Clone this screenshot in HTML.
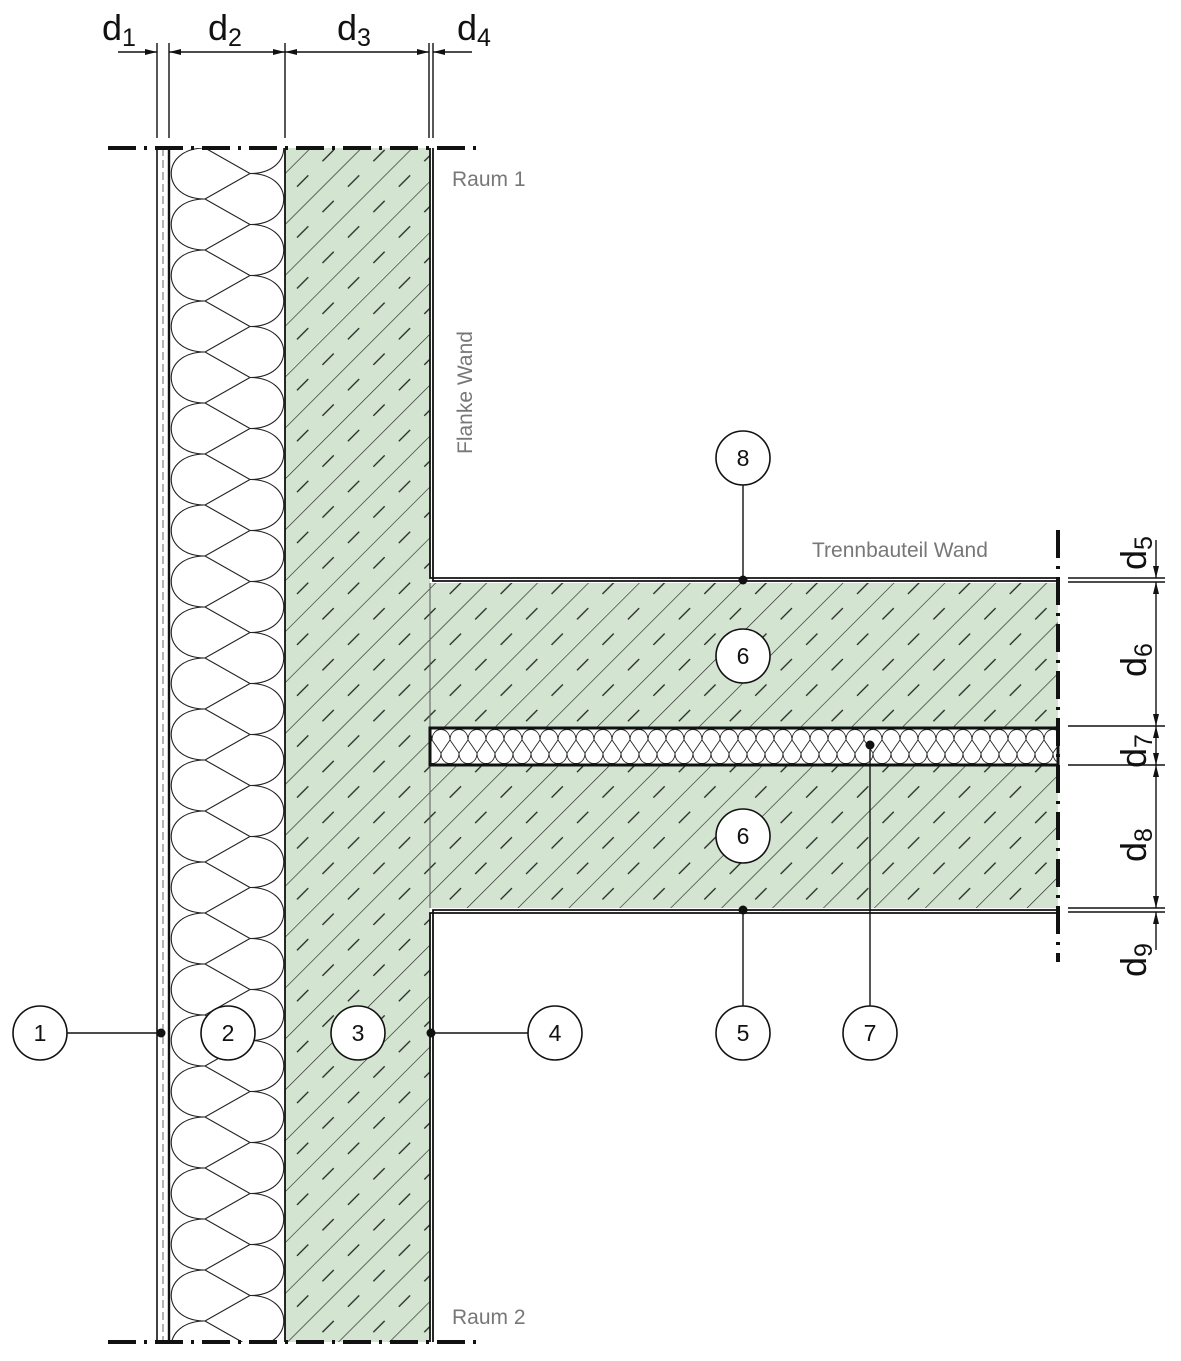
<!DOCTYPE html>
<html><head><meta charset="utf-8"><style>
html,body{margin:0;padding:0;background:#fff;}
svg{display:block;}
text{font-family:"Liberation Sans",sans-serif;}
</style></head><body>
<svg width="1181" height="1361" viewBox="0 0 1181 1361" xmlns="http://www.w3.org/2000/svg">
<defs>
<pattern id="hatch" patternUnits="userSpaceOnUse" width="36" height="36" patternTransform="rotate(-45)">
<rect width="36" height="36" fill="#d3e5d1"/>
<line x1="0" y1="0" x2="36" y2="0" stroke="#222" stroke-width="1.3"/>
<line x1="6" y1="18" x2="22" y2="18" stroke="#222" stroke-width="1.3"/>
</pattern>
<pattern id="ins" patternUnits="userSpaceOnUse" x="170" y="148" width="115" height="51">
<rect width="115" height="51" fill="#fff"/>
<g fill="none" stroke="#222" stroke-width="1.1">
<path d="M35,0 C-10,0 -10,51 35,51"/>
<path d="M80,-25.5 C125,-25.5 125,25.5 80,25.5"/>
<path d="M80,25.5 C125,25.5 125,76.5 80,76.5"/>
<path d="M35,0 L80,25.5 L35,51"/>
<path d="M35,0 L80,-25.5 M35,51 L80,76.5"/>
</g>
</pattern>
<pattern id="ins2" patternUnits="userSpaceOnUse" x="0" y="729" width="18" height="35">
<rect width="18" height="35" fill="#fff"/>
<g fill="none" stroke="#222" stroke-width="0.9">
<path d="M0,11 C0,-3 18,-3 18,11"/>
<path d="M-9,24 C-9,38 9,38 9,24"/>
<path d="M9,24 C9,38 27,38 27,24"/>
<path d="M0,11 L9,24 L18,11"/>
<path d="M0,11 L-9,24 M18,11 L27,24"/>
</g>
</pattern>
</defs>

<rect x="170" y="148" width="115" height="1194" fill="url(#ins)"/>
<rect x="285" y="148" width="145" height="1194" fill="url(#hatch)"/>
<rect x="428" y="583" width="630" height="144" fill="url(#hatch)"/>
<rect x="428" y="765" width="630" height="143" fill="url(#hatch)"/>
<rect x="430" y="729" width="628" height="35" fill="url(#ins2)"/>
<line x1="430" y1="583" x2="430" y2="908" stroke="#555" stroke-width="1"/>
<rect x="430" y="728" width="628" height="37" fill="none" stroke="#111" stroke-width="3"/>

<g stroke="#111" fill="none">
<line x1="157" y1="148" x2="157" y2="1342" stroke-width="1.6"/>
<line x1="163" y1="148" x2="163" y2="1342" stroke-width="1" stroke-dasharray="8,4" stroke="#666"/>
<line x1="169" y1="148" x2="169" y2="1342" stroke-width="2.4"/>
<line x1="285" y1="148" x2="285" y2="1342" stroke-width="1.8"/>
<path d="M430,148 V578 H1058 M433,148 V581 H1058" stroke-width="1.8"/>
<path d="M430,1342 V913 H1058 M433,1342 V910 H1058" stroke-width="1.8"/>
</g>

<g stroke="#111" stroke-width="4" stroke-dasharray="28,8,3,8">
<line x1="108" y1="148" x2="480" y2="148"/>
<line x1="108" y1="1342" x2="480" y2="1342"/>
<line x1="1058" y1="530" x2="1058" y2="962"/>
</g>

<g stroke="#111" stroke-width="1.4" fill="#111">
<line x1="157" y1="43" x2="157" y2="138"/>
<line x1="169" y1="43" x2="169" y2="138"/>
<line x1="285" y1="43" x2="285" y2="138"/>
<line x1="429" y1="43" x2="429" y2="138"/>
<line x1="433" y1="43" x2="433" y2="138"/>
<line x1="118" y1="52" x2="157" y2="52"/>
<line x1="169" y1="52" x2="429" y2="52"/>
<line x1="433" y1="52" x2="472" y2="52"/>
<path d="M157,52 l-12,-3 v6z M169,52 l12,-3 v6z M285,52 l-12,-3 v6z M285,52 l12,-3 v6z M429,52 l-12,-3 v6z M433,52 l12,-3 v6z" stroke="none"/>
</g>
<g font-size="36" fill="#111">
<text x="102" y="40">d<tspan font-size="25" dy="6">1</tspan></text>
<text x="208" y="40">d<tspan font-size="25" dy="6">2</tspan></text>
<text x="337" y="40">d<tspan font-size="25" dy="6">3</tspan></text>
<text x="457" y="40">d<tspan font-size="25" dy="6">4</tspan></text>
</g>

<g stroke="#111" stroke-width="1.4" fill="#111">
<line x1="1068" y1="578" x2="1165" y2="578"/>
<line x1="1068" y1="582" x2="1165" y2="582"/>
<line x1="1068" y1="726" x2="1165" y2="726"/>
<line x1="1068" y1="765" x2="1165" y2="765"/>
<line x1="1068" y1="908" x2="1165" y2="908"/>
<line x1="1068" y1="912" x2="1165" y2="912"/>
<line x1="1156" y1="540" x2="1156" y2="578"/>
<line x1="1156" y1="582" x2="1156" y2="908"/>
<line x1="1156" y1="912" x2="1156" y2="950"/>
<path d="M1156,578 l-3,-12 h6z M1156,582 l-3,12 h6z M1156,726 l-3,-12 h6z M1156,726 l-3,12 h6z M1156,765 l-3,-12 h6z M1156,765 l-3,12 h6z M1156,908 l-3,-12 h6z M1156,912 l-3,12 h6z" stroke="none"/>
</g>
<g font-size="36" fill="#111">
<text transform="translate(1146,570) rotate(-90)">d<tspan font-size="25" dy="6">5</tspan></text>
<text transform="translate(1146,677) rotate(-90)">d<tspan font-size="25" dy="6">6</tspan></text>
<text transform="translate(1146,768) rotate(-90)">d<tspan font-size="25" dy="6">7</tspan></text>
<text transform="translate(1146,862) rotate(-90)">d<tspan font-size="25" dy="6">8</tspan></text>
<text transform="translate(1146,977) rotate(-90)">d<tspan font-size="25" dy="6">9</tspan></text>
</g>

<g font-size="21" fill="#777">
<text x="452" y="186">Raum 1</text>
<text x="452" y="1324">Raum 2</text>
<text x="812" y="557">Trennbauteil Wand</text>
<text transform="translate(472,454) rotate(-90)">Flanke Wand</text>
</g>

<g stroke="#111" stroke-width="1.4">
<line x1="67" y1="1033" x2="161" y2="1033"/>
<line x1="431" y1="1033" x2="528" y2="1033"/>
<line x1="743" y1="485" x2="743" y2="580"/>
<line x1="743" y1="910" x2="743" y2="1006"/>
<line x1="870" y1="745" x2="870" y2="1006"/>
</g>
<g fill="#111">
<circle cx="161" cy="1033" r="4.5"/>
<circle cx="431" cy="1033" r="4.5"/>
<circle cx="743" cy="580" r="4.5"/>
<circle cx="743" cy="910" r="4.5"/>
<circle cx="870" cy="745" r="4.5"/>
</g>

<g fill="#fff" stroke="#111" stroke-width="1.6">
<circle cx="40" cy="1033" r="27"/>
<circle cx="228" cy="1033" r="27"/>
<circle cx="358" cy="1033" r="27"/>
<circle cx="555" cy="1033" r="27"/>
<circle cx="743" cy="1033" r="27"/>
<circle cx="870" cy="1033" r="27"/>
<circle cx="743" cy="458" r="27"/>
<circle cx="743" cy="656" r="27"/>
<circle cx="743" cy="836" r="27"/>
</g>
<g font-size="23" fill="#111" text-anchor="middle">
<text x="40" y="1041">1</text>
<text x="228" y="1041">2</text>
<text x="358" y="1041">3</text>
<text x="555" y="1041">4</text>
<text x="743" y="1041">5</text>
<text x="870" y="1041">7</text>
<text x="743" y="466">8</text>
<text x="743" y="664">6</text>
<text x="743" y="844">6</text>
</g>
</svg>
</body></html>
